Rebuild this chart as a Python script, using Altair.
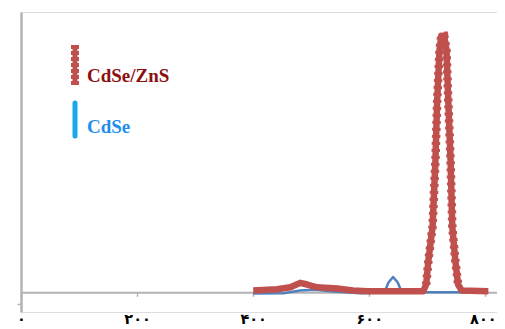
import altair as alt
import pandas as pd

# CdSe/ZnS series (wavelength, intensity)
red_x = [400, 441, 464, 481, 493, 510, 545, 572, 597, 693, 698, 702, 709, 714, 717, 721, 724, 729, 733, 736, 740, 743, 748, 753, 759, 805]
red_y = [0.007, 0.011, 0.018, 0.034, 0.028, 0.018, 0.014, 0.007, 0.004, 0.004, 0.028, 0.117, 0.235, 0.473, 0.687, 0.865, 0.915, 0.915, 0.865, 0.687, 0.473, 0.235, 0.117, 0.028, 0.007, 0.004]

# CdSe series
blue_x = [400, 452, 481, 507, 533, 584, 626, 633, 641, 649, 656, 688, 805]
blue_y = [-0.004, -0.003, 0.007, 0.009, 0.004, -0.003, 0.0, 0.035, 0.055, 0.035, 0.0, 0.0, 0.0]

x_ticks = [0, 200, 400, 600, 800]
x_tick_labels = ["۰", "۲۰۰", "۴۰۰", "۶۰۰", "۸۰۰"]

red_df = pd.DataFrame({"x": red_x, "y": red_y, "order": range(len(red_x))})
blue_df = pd.DataFrame({"x": blue_x, "y": blue_y, "order": range(len(blue_x))})

label_expr = " : ".join(
    f"datum.value == {v} ? '{l}'" for v, l in zip(x_ticks, x_tick_labels)
) + " : ''"

xscale = alt.Scale(domain=[0, 820], nice=False, zero=False)
yscale = alt.Scale(domain=[-0.07, 1.0], nice=False, zero=False)

xenc = alt.X(
    "x:Q", scale=xscale,
    axis=alt.Axis(
        values=x_ticks, labelExpr=label_expr, title=None, grid=False,
        offset=-19.7, domainColor="#b3b3b3", domainWidth=2,
        tickColor="#b3b3b3", tickSize=4, tickWidth=1.5,
        labelPadding=16, labelFont="DejaVu Sans", labelFontWeight="bold",
        labelFontSize=14.5, labelColor="#000000", labelOverlap=False,
        labelBound=False, labelFlush=False,
        labelOffset={"expr": "datum.value == 800 ? -2.5 : 0"},
    ),
)
yenc = alt.Y(
    "y:Q", scale=yscale,
    axis=alt.Axis(
        values=[-0.043], labels=False, title=None, grid=False,
        domainColor="#b3b3b3", domainWidth=2.5, tickColor="#b3b3b3",
        tickSize=4, tickWidth=1.5,
    ),
)

blue_line = alt.Chart(blue_df).mark_line(
    color="#4F81BD", strokeWidth=2.5, strokeJoin="round"
).encode(x=xenc, y=yenc, order="order:Q")

red_line = alt.Chart(red_df).mark_line(
    color="#C0504D", strokeWidth=6.5, strokeJoin="round"
).encode(x=xenc, y=yenc, order="order:Q")

red_dots = alt.Chart(red_df).transform_filter(
    "datum.y > 0.02 && datum.x > 690"
).mark_line(
    color="#C0504D", strokeWidth=8.5, strokeDash=[3, 4]
).encode(x=xenc, y=yenc, order="order:Q")

legend_red = alt.Chart(pd.DataFrame({"a": [0]})).mark_rule(
    color="#C0504D", strokeWidth=8, strokeDash=[4, 2]
).encode(x=alt.value(54), y=alt.value(33), y2=alt.value(73))
legend_red2 = alt.Chart(pd.DataFrame({"a": [0]})).mark_rule(
    color="#C0504D", strokeWidth=5
).encode(x=alt.value(54), y=alt.value(33), y2=alt.value(73))
legend_blue = alt.Chart(pd.DataFrame({"a": [0]})).mark_rule(
    color="#19A9E8", strokeWidth=5, strokeCap="round"
).encode(x=alt.value(54), y=alt.value(91), y2=alt.value(124))

text_red = alt.Chart(pd.DataFrame({"t": ["CdSe/ZnS"]})).mark_text(
    align="left", baseline="alphabetic", font="Liberation Serif",
    fontWeight="bold", fontSize=19, color="#8B1010"
).encode(x=alt.value(66), y=alt.value(70), text="t:N")
text_blue = alt.Chart(pd.DataFrame({"t": ["CdSe"]})).mark_text(
    align="left", baseline="alphabetic", font="Liberation Serif",
    fontWeight="bold", fontSize=19, color="#1E8FF0"
).encode(x=alt.value(66), y=alt.value(121), text="t:N")

chart = alt.layer(
    blue_line, red_line, red_dots, legend_red2, legend_red, legend_blue,
    text_red, text_blue
).properties(
    width=476, height=300,
    autosize=alt.AutoSizeParams(type="none"),
    padding={"left": 13, "top": 4, "right": 0, "bottom": 17},
).configure_view(stroke=None).configure(background="white")

chart.save("out.html", embed_options={"renderer": "svg", "actions": False})
